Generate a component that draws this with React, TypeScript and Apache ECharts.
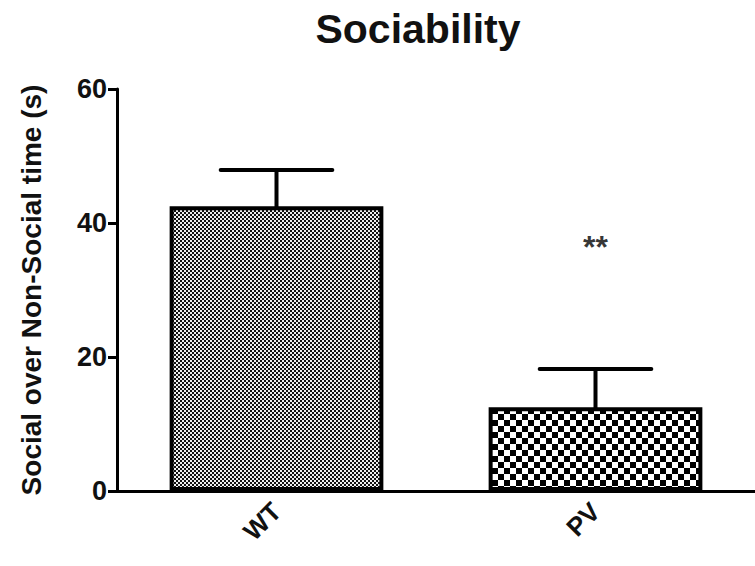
import React, { useEffect, useRef } from "react";
import * as echarts from "echarts";

const categories = ["WT", "PV"];
const means = [42.5, 12.5];
const errUpper = [47.9, 18.2];
const yTicks = { min: 0, max: 60, interval: 20 };
const annotation = { category: "PV", value: 36.4, text: "**" };
const titleText = "Sociability";
const yName = "Social over Non-Social time (s)";

const FONT = "'Liberation Sans', Arial, Helvetica, sans-serif";

function makeFine(): HTMLCanvasElement {
  const c = document.createElement("canvas");
  c.width = 4;
  c.height = 4;
  const ctx = c.getContext("2d")!;
  ctx.fillStyle = "#eeeeee";
  ctx.fillRect(0, 0, 4, 4);
  ctx.fillStyle = "#111111";
  ctx.fillRect(0, 0, 2, 2);
  ctx.fillRect(2, 2, 2, 2);
  return c;
}

function makeCoarse(): HTMLCanvasElement {
  const s = 6;
  const c = document.createElement("canvas");
  c.width = s * 2;
  c.height = s * 2;
  const ctx = c.getContext("2d")!;
  ctx.fillStyle = "#ffffff";
  ctx.fillRect(0, 0, s * 2, s * 2);
  ctx.fillStyle = "#000000";
  ctx.fillRect(0, 0, s, s);
  ctx.fillRect(s, s, s, s);
  return c;
}

export default function App() {
  const ref = useRef<HTMLDivElement>(null);
  useEffect(() => {
    if (!ref.current) return;
    const chart = echarts.init(ref.current, undefined, { renderer: "svg" });
    const patterns = [makeFine(), makeCoarse()];
    const barData = means.map((v, i) => ({
      value: v,
      itemStyle: {
        color: { image: patterns[i], repeat: "repeat" } as any,
      },
    }));
    const errData = categories.map((c, i) => [i, means[i], errUpper[i]]);
    chart.setOption({
      animation: false,
      backgroundColor: "#ffffff",
      textStyle: { fontFamily: FONT },
      graphic: [
        {
          type: "text",
          x: 418,
          y: 8,
          style: {
            text: titleText,
            fontFamily: FONT,
            fontSize: 41,
            fontWeight: "bold",
            fill: "#111",
            textAlign: "center",
            textVerticalAlign: "top",
          },
        },
      ],
      grid: { left: 117, right: -8, top: 89, bottom: 75, containLabel: false },
      xAxis: {
        type: "category",
        data: categories,
        axisLine: { lineStyle: { color: "#000", width: 3 } },
        axisTick: { alignWithLabel: true, length: 12, lineStyle: { color: "#000", width: 3 } },
        axisLabel: {
          rotate: 45,
          fontFamily: FONT,
          fontSize: 26,
          fontWeight: "bold",
          color: "#111",
          margin: 16,
        },
      },
      yAxis: {
        type: "value",
        min: yTicks.min,
        max: yTicks.max,
        interval: yTicks.interval,
        name: yName,
        nameLocation: "middle",
        nameGap: 72,
        nameTextStyle: { fontFamily: FONT, fontSize: 28, fontWeight: "bold", color: "#111" },
        axisLine: { show: true, lineStyle: { color: "#000", width: 3 } },
        axisTick: { show: true, length: 9, lineStyle: { color: "#000", width: 3 } },
        splitLine: { show: false },
        axisLabel: {
          fontFamily: FONT,
          fontSize: 27,
          fontWeight: "bold",
          color: "#111",
          margin: 10,
        },
      },
      series: [
        {
          type: "bar",
          data: barData,
          barWidth: "67%",
          itemStyle: { borderColor: "#000", borderWidth: 4 },
          z: 2,
        },
        {
          type: "custom",
          z: 3,
          renderItem: (params: any, api: any) => {
            const idx = api.value(0);
            const base = api.coord([idx, api.value(1)]);
            const top = api.coord([idx, api.value(2)]);
            const band = api.size([1, 0])[0];
            const half = band * 0.175;
            const style = { stroke: "#000", lineWidth: 4, lineCap: "round" };
            return {
              type: "group",
              children: [
                { type: "line", shape: { x1: base[0], y1: base[1], x2: top[0], y2: top[1] }, style },
                { type: "line", shape: { x1: top[0] - half, y1: top[1], x2: top[0] + half, y2: top[1] }, style },
              ],
            };
          },
          data: errData,
        },
        {
          type: "scatter",
          symbolSize: 0,
          silent: true,
          data: [[annotation.category, annotation.value]],
          label: {
            show: true,
            position: "inside",
            formatter: annotation.text,
            fontFamily: FONT,
            fontSize: 32,
            fontWeight: "bold",
            color: "#000",
          },
        },
      ],
    });
    return () => chart.dispose();
  }, []);
  return (
    <div
      ref={ref}
      style={{ position: "fixed", left: 0, top: 0, width: 755, height: 566, background: "#fff" }}
    />
  );
}
